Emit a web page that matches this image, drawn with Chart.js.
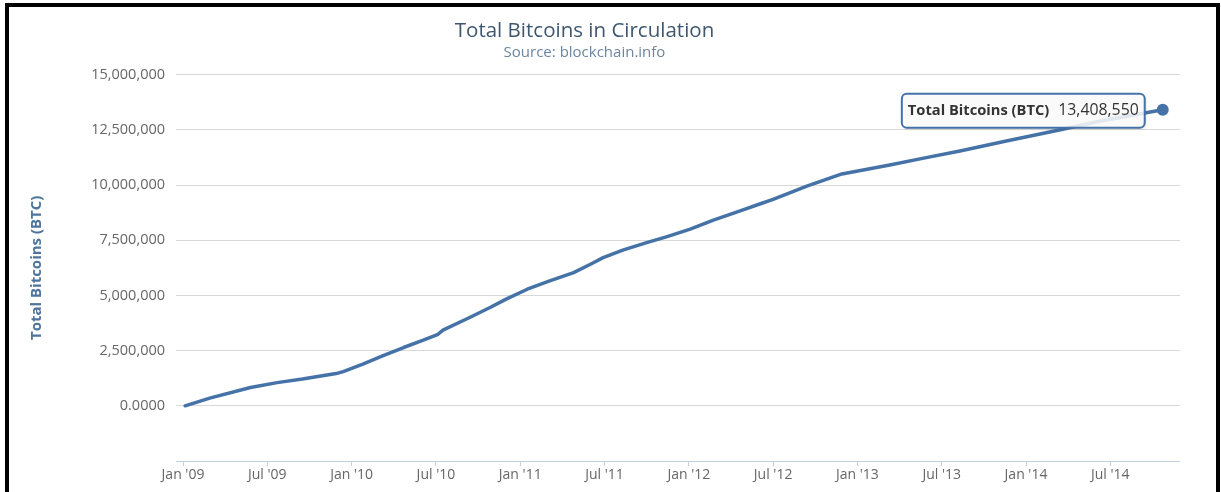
<!DOCTYPE html>
<html><head><meta charset="utf-8">
<script src="https://cdn.jsdelivr.net/npm/chart.js@4.4.1/dist/chart.umd.min.js"></script>
<style>
html,body{margin:0;padding:0;background:#fff;width:1221px;height:492px;overflow:hidden;}
#frame{position:absolute;left:5px;top:3px;width:1207px;height:540px;border:4px solid #000;z-index:2;pointer-events:none;}
#wrap{position:absolute;left:-11px;top:0;width:1191px;height:492px;z-index:1;}
</style></head><body>
<div id="frame"></div>
<div id="wrap"><canvas id="c" width="1191" height="492"></canvas></div>
<script>
// ---- data ----
const chartTitle = 'Total Bitcoins in Circulation';
const chartSubtitle = 'Source: blockchain.info';
const seriesName = 'Total Bitcoins (BTC)';
const monthsSinceJan2009 = [0.15, 1.9, 4.8, 6.7, 8.5, 10.9, 11.4, 12.8, 14.2, 15.7, 17.1, 18.15, 18.5, 20.4, 21.85, 23.0, 24.5, 26.1, 27.8, 29.0, 29.9, 31.3, 33.0, 34.4, 36.1, 37.7, 39.6, 41.1, 42.0, 44.4, 46.9, 50.3, 52.9, 55.3, 58.6, 62.2, 65.3, 69.73];
const totalBTC = [0, 350000, 830000, 1050000, 1210000, 1460000, 1550000, 1890000, 2260000, 2640000, 2970000, 3240000, 3430000, 4000000, 4450000, 4830000, 5280000, 5660000, 6030000, 6410000, 6710000, 7050000, 7390000, 7650000, 8000000, 8400000, 8820000, 9150000, 9350000, 9950000, 10500000, 10910000, 11240000, 11540000, 11990000, 12470000, 12900000, 13408550];
const xTickMonths = [0, 6, 12, 18, 24, 30, 36, 42, 48, 54, 60, 66];
const xTickLabels = ["Jan '09", "Jul '09", "Jan '10", "Jul '10", "Jan '11", "Jul '11", "Jan '12", "Jul '12", "Jan '13", "Jul '13", "Jan '14", "Jul '14"];
const yTickValues = [-2500000, 0, 2500000, 5000000, 7500000, 10000000, 12500000, 15000000];
const yTickLabels = ['', '0.0000', '2,500,000', '5,000,000', '7,500,000', '10,000,000', '12,500,000', '15,000,000'];

const FONT = '"Open Sans", "DejaVu Sans", sans-serif';
const lineColor = '#4572A7';

function rr(ctx, x, y, w, h, r) {
  ctx.beginPath();
  ctx.moveTo(x + r, y);
  ctx.lineTo(x + w - r, y); ctx.arcTo(x + w, y, x + w, y + r, r);
  ctx.lineTo(x + w, y + h - r); ctx.arcTo(x + w, y + h, x + w - r, y + h, r);
  ctx.lineTo(x + r, y + h); ctx.arcTo(x, y + h, x, y + h - r, r);
  ctx.lineTo(x, y + r); ctx.arcTo(x, y, x + r, y, r);
  ctx.closePath();
}

const endLabel = {
  id: 'endLabel',
  afterDatasetsDraw(chart) {
    const meta = chart.getDatasetMeta(0);
    const last = meta.data.length - 1;
    const pt = meta.data[last];
    const ctx = chart.ctx;
    const valText = totalBTC[last].toLocaleString('en-US');
    ctx.save();
    const f1 = 'bold 14.7px ' + FONT, f2 = '15.8px ' + FONT;
    ctx.font = f1;
    const w1 = ctx.measureText(seriesName).width;
    ctx.font = f2;
    const w2 = ctx.measureText(valText).width;
    const pad = 6, gap = 9, h = 34;
    const w = pad * 2 + w1 + gap + w2;
    const x1 = pt.x - 18 - w;
    const y1 = pt.y - h / 2 + 1;
    ctx.shadowColor = 'rgba(0,0,0,0.18)';
    ctx.shadowBlur = 3; ctx.shadowOffsetX = 1; ctx.shadowOffsetY = 1;
    rr(ctx, x1, y1, w, h, 5);
    ctx.fillStyle = 'rgba(255,255,255,0.85)';
    ctx.fill();
    ctx.shadowColor = 'transparent';
    ctx.lineWidth = 2;
    ctx.strokeStyle = lineColor;
    ctx.stroke();
    ctx.textBaseline = 'middle';
    ctx.fillStyle = '#333';
    ctx.font = f1;
    ctx.fillText(seriesName, x1 + pad, y1 + h / 2);
    ctx.font = f2;
    ctx.fillText(valText, x1 + pad + w1 + gap, y1 + h / 2);
    ctx.restore();
  }
};

function draw() {
  const ctx = document.getElementById('c');
  new Chart(ctx, {
    type: 'line',
    data: {
      datasets: [{
        label: seriesName,
        data: monthsSinceJan2009.map((m, i) => ({ x: m, y: totalBTC[i] })),
        borderColor: lineColor,
        backgroundColor: lineColor,
        borderWidth: 3.5,
        tension: 0,
        borderCapStyle: 'round',
        borderJoinStyle: 'round',
        pointRadius: c => (c.dataIndex === totalBTC.length - 1 ? 6 : 0),
        pointBorderWidth: 0,
        pointBackgroundColor: lineColor,
        fill: false
      }]
    },
    options: {
      responsive: false,
      animation: false,
      devicePixelRatio: 1,
      layout: { autoPadding: false, padding: { left: 0, right: 0, top: 0, bottom: 0 } },
      plugins: {
        legend: { display: false },
        tooltip: { enabled: false },
        title: {
          display: true, text: chartTitle, color: '#3E576F',
          font: { family: FONT, size: 20.5, weight: 'normal' },
          padding: { top: 19, bottom: 0 }
        },
        subtitle: {
          display: true, text: chartSubtitle, color: '#6D869F',
          font: { family: FONT, size: 15, weight: 'normal' },
          padding: { top: 0, bottom: 13 }
        }
      },
      scales: {
        x: {
          type: 'linear', min: -0.5, max: 70.96,
          afterBuildTicks: s => { s.ticks = xTickMonths.map(v => ({ value: v })); },
          afterFit: s => { s.height = 31; },
          grid: { drawOnChartArea: false, drawTicks: true, tickLength: 5, color: '#C0D0E0' },
          border: { display: true, color: '#C0D0E0', width: 1 },
          ticks: {
            padding: 1, maxRotation: 0, autoSkip: false, color: '#666',
            font: { family: FONT, size: 14 },
            callback: (v, i) => xTickLabels[i]
          }
        },
        y: {
          min: -2500000, max: 15000000,
          afterBuildTicks: s => { s.ticks = yTickValues.map(v => ({ value: v })); },
          afterFit: s => { s.width = 187; },
          grid: { color: '#D8D8D8', drawTicks: false, lineWidth: 1 },
          border: { display: false },
          ticks: {
            padding: 11, color: '#666',
            font: { family: FONT, size: 14.5 },
            callback: (v, i) => yTickLabels[i]
          },
          title: {
            display: true, text: seriesName, color: '#4d759e',
            font: { family: FONT, size: 15, weight: 'bold' },
            padding: { top: 39, bottom: 0 }
          }
        }
      }
    },
    plugins: [endLabel]
  });
}
if (document.fonts && document.fonts.load) {
  Promise.all([
    document.fonts.load('14px "Open Sans"'),
    document.fonts.load('bold 14px "Open Sans"')
  ]).then(draw, draw);
} else { draw(); }
</script>
</body></html>
